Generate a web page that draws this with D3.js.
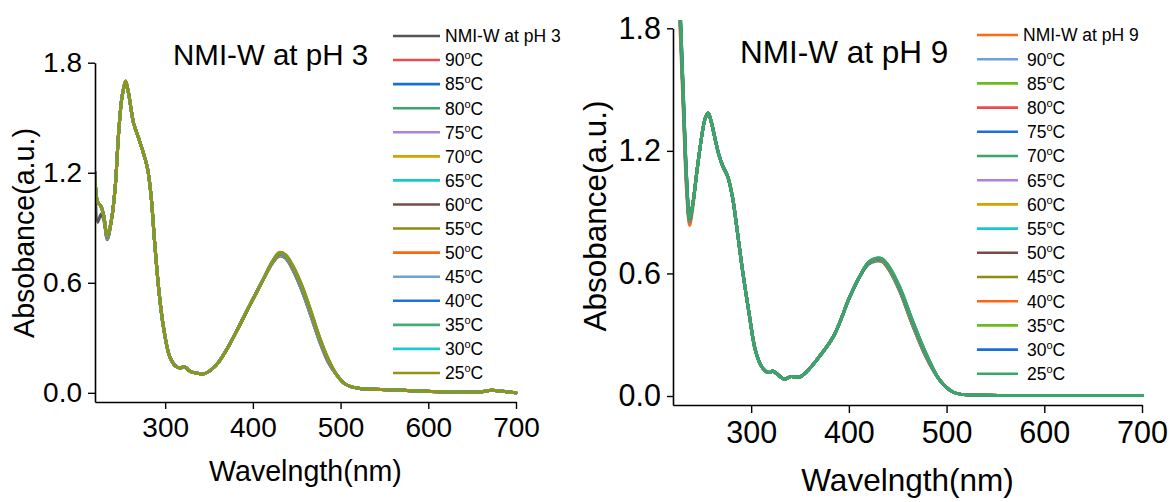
<!DOCTYPE html>
<html><head><meta charset="utf-8">
<script src="https://cdn.jsdelivr.net/npm/d3@7"></script>
<style>
html,body{margin:0;padding:0;background:#fff;}
svg{display:block;font-family:"Liberation Sans",Arial,Helvetica,sans-serif;}
</style></head>
<body><svg id="c" width="1172" height="502"></svg>
<script>
// ---------- DATA: left panel (pH 3) ----------
const wlLeft = [220,223,227,230,234,239,243,247,251,255,258,264,270,275,280,284,288,293,298,305,312,317,322,327,333,345,358,370,385,400,412,422,430,437,446,456,466,476,486,496,506,520,560,620,660,672,685,700];
const pH3_init = [1.17,0.93,0.975,0.94,0.85,0.95,1.12,1.42,1.62,1.69,1.64,1.47,1.385,1.31,1.22,1.07,0.82,0.55,0.36,0.20,0.145,0.135,0.143,0.122,0.11,0.105,0.15,0.235,0.37,0.51,0.62,0.710,0.755,0.745,0.677,0.569,0.434,0.292,0.174,0.095,0.045,0.025,0.016,0.006,0.005,0.014,0.008,0];
const pH3_90 = [1.20,1.04,1.015,0.965,0.835,0.95,1.12,1.42,1.62,1.685,1.64,1.47,1.385,1.31,1.22,1.07,0.82,0.55,0.36,0.20,0.145,0.135,0.143,0.122,0.11,0.105,0.15,0.235,0.37,0.51,0.62,0.705,0.745,0.735,0.665,0.555,0.420,0.280,0.165,0.095,0.045,0.025,0.016,0.006,0.005,0.014,0.008,0];
const pH3_85 = [1.20,1.04,1.015,0.965,0.837,0.95,1.12,1.42,1.62,1.687,1.64,1.47,1.385,1.31,1.22,1.07,0.82,0.55,0.36,0.20,0.145,0.135,0.143,0.122,0.11,0.105,0.15,0.235,0.37,0.51,0.62,0.706,0.747,0.737,0.667,0.557,0.422,0.282,0.167,0.095,0.045,0.025,0.016,0.006,0.005,0.014,0.008,0];
const pH3_80 = [1.20,1.04,1.015,0.965,0.839,0.95,1.12,1.42,1.62,1.688,1.64,1.47,1.385,1.31,1.22,1.07,0.82,0.55,0.36,0.20,0.145,0.135,0.143,0.122,0.11,0.105,0.15,0.235,0.37,0.51,0.62,0.707,0.748,0.738,0.669,0.560,0.425,0.284,0.168,0.095,0.045,0.025,0.016,0.006,0.005,0.014,0.008,0];
const pH3_75 = [1.20,1.04,1.015,0.965,0.841,0.95,1.12,1.42,1.62,1.690,1.64,1.47,1.385,1.31,1.22,1.07,0.82,0.55,0.36,0.20,0.145,0.135,0.143,0.122,0.11,0.105,0.15,0.235,0.37,0.51,0.62,0.707,0.750,0.740,0.671,0.562,0.427,0.286,0.170,0.095,0.045,0.025,0.016,0.006,0.005,0.014,0.008,0];
const pH3_70 = [1.20,1.04,1.015,0.965,0.843,0.95,1.12,1.42,1.62,1.691,1.64,1.47,1.385,1.31,1.22,1.07,0.82,0.55,0.36,0.20,0.145,0.135,0.143,0.122,0.11,0.105,0.15,0.235,0.37,0.51,0.62,0.708,0.751,0.741,0.673,0.564,0.429,0.288,0.171,0.095,0.045,0.025,0.016,0.006,0.005,0.014,0.008,0];
const pH3_65 = [1.20,1.04,1.015,0.965,0.845,0.95,1.12,1.42,1.62,1.693,1.64,1.47,1.385,1.31,1.22,1.07,0.82,0.55,0.36,0.20,0.145,0.135,0.143,0.122,0.11,0.105,0.15,0.235,0.37,0.51,0.62,0.709,0.753,0.743,0.675,0.567,0.432,0.290,0.173,0.095,0.045,0.025,0.016,0.006,0.005,0.014,0.008,0];
const pH3_60 = [1.20,1.04,1.015,0.965,0.847,0.95,1.12,1.42,1.62,1.694,1.64,1.47,1.385,1.31,1.22,1.07,0.82,0.55,0.36,0.20,0.145,0.135,0.143,0.122,0.11,0.105,0.15,0.235,0.37,0.51,0.62,0.710,0.754,0.744,0.677,0.569,0.434,0.292,0.174,0.095,0.045,0.025,0.016,0.006,0.005,0.014,0.008,0];
const pH3_55 = [1.20,1.04,1.015,0.965,0.848,0.95,1.12,1.42,1.62,1.696,1.64,1.47,1.385,1.31,1.22,1.07,0.82,0.55,0.36,0.20,0.145,0.135,0.143,0.122,0.11,0.105,0.15,0.235,0.37,0.51,0.62,0.710,0.756,0.746,0.678,0.571,0.436,0.293,0.176,0.095,0.045,0.025,0.016,0.006,0.005,0.014,0.008,0];
const pH3_50 = [1.20,1.04,1.015,0.965,0.850,0.95,1.12,1.42,1.62,1.697,1.64,1.47,1.385,1.31,1.22,1.07,0.82,0.55,0.36,0.20,0.145,0.135,0.143,0.122,0.11,0.105,0.15,0.235,0.37,0.51,0.62,0.711,0.757,0.747,0.680,0.573,0.438,0.295,0.177,0.095,0.045,0.025,0.016,0.006,0.005,0.014,0.008,0];
const pH3_45 = [1.20,1.04,1.015,0.965,0.852,0.95,1.12,1.42,1.62,1.699,1.64,1.47,1.385,1.31,1.22,1.07,0.82,0.55,0.36,0.20,0.145,0.135,0.143,0.122,0.11,0.105,0.15,0.235,0.37,0.51,0.62,0.712,0.759,0.749,0.682,0.576,0.441,0.297,0.179,0.095,0.045,0.025,0.016,0.006,0.005,0.014,0.008,0];
const pH3_40 = [1.20,1.04,1.015,0.965,0.854,0.95,1.12,1.42,1.62,1.700,1.64,1.47,1.385,1.31,1.22,1.07,0.82,0.55,0.36,0.20,0.145,0.135,0.143,0.122,0.11,0.105,0.15,0.235,0.37,0.51,0.62,0.713,0.760,0.750,0.684,0.578,0.443,0.299,0.180,0.095,0.045,0.025,0.016,0.006,0.005,0.014,0.008,0];
const pH3_35 = [1.20,1.04,1.015,0.965,0.856,0.95,1.12,1.42,1.62,1.700,1.64,1.47,1.385,1.31,1.22,1.07,0.82,0.55,0.36,0.20,0.145,0.135,0.143,0.122,0.11,0.105,0.15,0.235,0.37,0.51,0.62,0.713,0.762,0.752,0.686,0.580,0.445,0.301,0.182,0.095,0.045,0.025,0.016,0.006,0.005,0.014,0.008,0];
const pH3_30 = [1.20,1.04,1.015,0.965,0.858,0.95,1.12,1.42,1.62,1.700,1.64,1.47,1.385,1.31,1.22,1.07,0.82,0.55,0.36,0.20,0.145,0.135,0.143,0.122,0.11,0.105,0.15,0.235,0.37,0.51,0.62,0.714,0.763,0.753,0.688,0.583,0.448,0.303,0.183,0.095,0.045,0.025,0.016,0.006,0.005,0.014,0.008,0];
const pH3_25 = [1.20,1.04,1.015,0.965,0.860,0.95,1.12,1.42,1.62,1.700,1.64,1.47,1.385,1.31,1.22,1.07,0.82,0.55,0.36,0.20,0.145,0.135,0.143,0.122,0.11,0.105,0.15,0.235,0.37,0.51,0.62,0.715,0.765,0.755,0.690,0.585,0.450,0.305,0.185,0.095,0.045,0.025,0.016,0.006,0.005,0.014,0.008,0];

// ---------- DATA: right panel (pH 9) ----------
const wlRight = [220,224,228,231,234,237,240,245,250,253,256,259,263,267,271,276,281,286,291,298,304,310,315,319,322,326,334,341,349,357,367,384,401,411,420,428,434,441,452,465,479,493,506,515,540,600,700];
const pH9_init = [2.55,2.15,1.700,1.330,0.990,0.835,0.91,1.12,1.29,1.36,1.38,1.34,1.26,1.18,1.12,1.07,0.97,0.80,0.62,0.40,0.23,0.15,0.12,0.115,0.122,0.11,0.083,0.095,0.092,0.12,0.176,0.29,0.486,0.584,0.648,0.665,0.662,0.623,0.519,0.355,0.195,0.078,0.021,0.008,0.004,0.003,0.003];
const pH9_90 = [2.60,2.25,1.740,1.370,1.020,0.850,0.93,1.12,1.29,1.36,1.385,1.345,1.26,1.18,1.125,1.075,0.97,0.80,0.62,0.40,0.23,0.15,0.12,0.115,0.122,0.11,0.083,0.095,0.092,0.12,0.176,0.29,0.486,0.584,0.645,0.660,0.657,0.617,0.512,0.347,0.189,0.078,0.021,0.008,0.004,0.003,0.003];
const pH9_85 = [2.60,2.25,1.746,1.375,1.024,0.852,0.93,1.12,1.29,1.36,1.385,1.345,1.26,1.18,1.125,1.075,0.97,0.80,0.62,0.40,0.23,0.15,0.12,0.115,0.122,0.11,0.083,0.095,0.092,0.12,0.176,0.29,0.486,0.584,0.646,0.661,0.658,0.618,0.514,0.349,0.191,0.078,0.021,0.008,0.004,0.003,0.003];
const pH9_80 = [2.60,2.25,1.752,1.379,1.028,0.853,0.93,1.12,1.29,1.36,1.385,1.345,1.26,1.18,1.125,1.075,0.97,0.80,0.62,0.40,0.23,0.15,0.12,0.115,0.122,0.11,0.083,0.095,0.092,0.12,0.176,0.29,0.486,0.584,0.647,0.662,0.659,0.620,0.516,0.351,0.192,0.078,0.021,0.008,0.004,0.003,0.003];
const pH9_75 = [2.60,2.25,1.758,1.384,1.032,0.855,0.93,1.12,1.29,1.36,1.385,1.345,1.26,1.18,1.125,1.075,0.97,0.80,0.62,0.40,0.23,0.15,0.12,0.115,0.122,0.11,0.083,0.095,0.092,0.12,0.176,0.29,0.486,0.584,0.647,0.663,0.660,0.621,0.517,0.353,0.194,0.078,0.021,0.008,0.004,0.003,0.003];
const pH9_70 = [2.60,2.25,1.765,1.388,1.035,0.856,0.93,1.12,1.29,1.36,1.385,1.345,1.26,1.18,1.125,1.075,0.97,0.80,0.62,0.40,0.23,0.15,0.12,0.115,0.122,0.11,0.083,0.095,0.092,0.12,0.176,0.29,0.486,0.584,0.648,0.665,0.662,0.623,0.519,0.355,0.195,0.078,0.021,0.008,0.004,0.003,0.003];
const pH9_65 = [2.60,2.25,1.771,1.393,1.039,0.858,0.93,1.12,1.29,1.36,1.385,1.345,1.26,1.18,1.125,1.075,0.97,0.80,0.62,0.40,0.23,0.15,0.12,0.115,0.122,0.11,0.083,0.095,0.092,0.12,0.176,0.29,0.486,0.584,0.649,0.666,0.663,0.624,0.521,0.357,0.197,0.078,0.021,0.008,0.004,0.003,0.003];
const pH9_60 = [2.60,2.25,1.777,1.398,1.043,0.859,0.93,1.12,1.29,1.36,1.385,1.345,1.26,1.18,1.125,1.075,0.97,0.80,0.62,0.40,0.23,0.15,0.12,0.115,0.122,0.11,0.083,0.095,0.092,0.12,0.176,0.29,0.486,0.584,0.650,0.667,0.664,0.625,0.523,0.359,0.198,0.078,0.021,0.008,0.004,0.003,0.003];
const pH9_55 = [2.60,2.25,1.783,1.402,1.047,0.861,0.93,1.12,1.29,1.36,1.385,1.345,1.26,1.18,1.125,1.075,0.97,0.80,0.62,0.40,0.23,0.15,0.12,0.115,0.122,0.11,0.083,0.095,0.092,0.12,0.176,0.29,0.486,0.584,0.650,0.668,0.665,0.627,0.524,0.360,0.200,0.078,0.021,0.008,0.004,0.003,0.003];
const pH9_50 = [2.60,2.25,1.789,1.407,1.051,0.862,0.93,1.12,1.29,1.36,1.385,1.345,1.26,1.18,1.125,1.075,0.97,0.80,0.62,0.40,0.23,0.15,0.12,0.115,0.122,0.11,0.083,0.095,0.092,0.12,0.176,0.29,0.486,0.584,0.651,0.669,0.666,0.628,0.526,0.362,0.201,0.078,0.021,0.008,0.004,0.003,0.003];
const pH9_45 = [2.60,2.25,1.795,1.412,1.055,0.864,0.93,1.12,1.29,1.36,1.385,1.345,1.26,1.18,1.125,1.075,0.97,0.80,0.62,0.40,0.23,0.15,0.12,0.115,0.122,0.11,0.083,0.095,0.092,0.12,0.176,0.29,0.486,0.584,0.652,0.670,0.667,0.629,0.528,0.364,0.203,0.078,0.021,0.008,0.004,0.003,0.003];
const pH9_40 = [2.60,2.25,1.802,1.416,1.058,0.865,0.93,1.12,1.29,1.36,1.385,1.345,1.26,1.18,1.125,1.075,0.97,0.80,0.62,0.40,0.23,0.15,0.12,0.115,0.122,0.11,0.083,0.095,0.092,0.12,0.176,0.29,0.486,0.584,0.653,0.672,0.669,0.631,0.530,0.366,0.204,0.078,0.021,0.008,0.004,0.003,0.003];
const pH9_35 = [2.60,2.25,1.808,1.421,1.062,0.867,0.93,1.12,1.29,1.36,1.385,1.345,1.26,1.18,1.125,1.075,0.97,0.80,0.62,0.40,0.23,0.15,0.12,0.115,0.122,0.11,0.083,0.095,0.092,0.12,0.176,0.29,0.486,0.584,0.653,0.673,0.670,0.632,0.531,0.368,0.206,0.078,0.021,0.008,0.004,0.003,0.003];
const pH9_30 = [2.60,2.25,1.814,1.425,1.066,0.868,0.93,1.12,1.29,1.36,1.385,1.345,1.26,1.18,1.125,1.075,0.97,0.80,0.62,0.40,0.23,0.15,0.12,0.115,0.122,0.11,0.083,0.095,0.092,0.12,0.176,0.29,0.486,0.584,0.654,0.674,0.671,0.634,0.533,0.370,0.207,0.078,0.021,0.008,0.004,0.003,0.003];
const pH9_25 = [2.60,2.25,1.820,1.430,1.070,0.870,0.93,1.12,1.29,1.36,1.385,1.345,1.26,1.18,1.125,1.075,0.97,0.80,0.62,0.40,0.23,0.15,0.12,0.115,0.122,0.11,0.083,0.095,0.092,0.12,0.176,0.29,0.486,0.584,0.655,0.675,0.672,0.635,0.535,0.372,0.209,0.078,0.021,0.008,0.004,0.003,0.003];

// ---------- labels, ticks, colours ----------
const tempLabels = ["90","85","80","75","70","65","60","55","50","45","40","35","30","25"];
const leftTitle = "NMI-W at pH 3";
const rightTitle = "NMI-W at pH 9";
const xTitle = "Wavelngth(nm)";
const yTitle = "Absobance(a.u.)";
const xTicks = [300,400,500,600,700];
const yTicks = [0.0,0.6,1.2,1.8];
const leftSeries = [pH3_init,pH3_90,pH3_85,pH3_80,pH3_75,pH3_70,pH3_65,pH3_60,pH3_55,pH3_50,pH3_45,pH3_40,pH3_35,pH3_30,pH3_25];
const rightSeries = [pH9_init,pH9_90,pH9_85,pH9_80,pH9_75,pH9_70,pH9_65,pH9_60,pH9_55,pH9_50,pH9_45,pH9_40,pH9_35,pH9_30,pH9_25];
const leftColors = ["#555555","#ec4c4c","#1d6fd6","#3aa66b","#b07ee6","#d9a000","#17c8d0","#7a4a48","#8c8c10","#ff6410","#6fa0d8","#2070e0","#45ad78","#1fc8cc","#939316"];
const rightColors = ["#ff6a10","#6fa0d8","#6cbb1c","#ec4c4c","#1d6fd6","#3aa66b","#b07ee6","#d9a000","#17c8d0","#7a4a48","#8c8c10","#ff6410","#6cbb1c","#1d6fd6","#3aa66b"];

const svg = d3.select("#c");
svg.append("rect").attr("width",1172).attr("height",502).attr("fill","#fff");

function panel(cfg){
  const x = d3.scaleLinear().domain([220,700]).range(cfg.xr);
  const y = d3.scaleLinear().domain(cfg.yd).range(cfg.yr);
  const g = svg.append("g");
  const clipId = "clip"+cfg.id;
  svg.append("defs").append("clipPath").attr("id",clipId).append("rect")
    .attr("x",cfg.xr[0]).attr("y",y(cfg.clipTop)).attr("width",cfg.xr[1]-cfg.xr[0]+4).attr("height",cfg.yr[0]-y(cfg.clipTop));
  const line = d3.line().x(d=>x(d[0])).y(d=>y(d[1])).curve(d3.curveCatmullRom.alpha(0.5));
  const lines = g.append("g").attr("clip-path",`url(#${clipId})`);
  cfg.series.forEach((s,i)=>{
    lines.append("path").datum(cfg.wl.map((w,j)=>[w,s[j]]))
      .attr("d",line).attr("fill","none").attr("stroke",cfg.colors[i])
      .attr("stroke-width",3).attr("stroke-linejoin","round").attr("stroke-linecap","round");
  });
  // axes
  const xa = g.append("g").attr("transform",`translate(0,${cfg.yr[0]})`)
    .call(d3.axisBottom(x).tickValues(xTicks).tickFormat(d3.format("d")).tickSize(cfg.xtick).tickSizeOuter(0).tickPadding(cfg.xpad));
  const ya = g.append("g").attr("transform",`translate(${cfg.xr[0]},0)`)
    .call(d3.axisLeft(y).tickValues(yTicks).tickFormat(d3.format(".1f")).tickSize(cfg.ytick).tickSizeOuter(0).tickPadding(cfg.ypad));
  [xa,ya].forEach(a=>{
    a.select(".domain").attr("stroke","#000").attr("stroke-width",1.6);
    a.selectAll(".tick line").attr("stroke","#000").attr("stroke-width",1.4);
    a.selectAll(".tick text").attr("fill","#000").style("font-size",cfg.tickFont+"px").style("font-family",'"Liberation Sans",Arial,sans-serif');
  });
  // titles
  g.append("text").attr("x",cfg.titleX).attr("y",cfg.titleY).attr("font-size",cfg.titleFont).attr("fill","#000").text(cfg.title);
  g.append("text").attr("x",(cfg.xr[0]+cfg.xr[1])/2).attr("y",cfg.xTitleY).attr("text-anchor","middle")
    .attr("font-size",cfg.axisFont).attr("fill","#000").text(xTitle);
  g.append("text").attr("transform",`translate(${cfg.yTitleX},${cfg.yTitleY}) rotate(-90)`).attr("text-anchor","middle")
    .attr("font-size",cfg.axisFont).attr("fill","#000").text(yTitle);
  // legend
  const lg = g.append("g");
  const labels = [cfg.title].concat(tempLabels);
  labels.forEach((lab,i)=>{
    const cy = cfg.legY + i*cfg.legStep;
    lg.append("line").attr("x1",cfg.legX1).attr("x2",cfg.legX2).attr("y1",cy).attr("y2",cy)
      .attr("stroke",cfg.colors[i]).attr("stroke-width",2.6);
    const t = lg.append("text").attr("x", i===0?cfg.legTx0:cfg.legTx).attr("y",cy+6.3).attr("font-size",17.5).attr("fill","#000");
    if(i===0){ t.text(lab); }
    else {
      t.append("tspan").text(lab);
      t.append("tspan").attr("font-size","11px").attr("dy","-7").text("o");
      t.append("tspan").attr("dy","7").text("C");
    }
  });
}

panel({id:"L", wl:wlLeft, series:leftSeries, colors:leftColors, title:leftTitle,
  xr:[95,516], yd:[-0.05,1.8], yr:[402,62.7], clipTop:1.8,
  xtick:7, xpad:8, ytick:7, ypad:6, tickFont:28,
  titleX:173, titleY:65, titleFont:29.5,
  xTitleY:481, yTitleX:34, yTitleY:233, axisFont:28.6,
  legY:36, legStep:24.07, legX1:393, legX2:440, legTx0:445, legTx:445});

panel({id:"R", wl:wlRight, series:rightSeries, colors:rightColors, title:rightTitle,
  xr:[673,1142], yd:[-0.044,1.8], yr:[405,28.3], clipTop:1.84,
  xtick:8, xpad:8.5, ytick:6, ypad:6, tickFont:30.5,
  titleX:740, titleY:63, titleFont:31.5,
  xTitleY:491, yTitleX:606, yTitleY:216, axisFont:31.5,
  legY:35, legStep:24.2, legX1:977, legX2:1018, legTx0:1023, legTx:1027});
</script></body></html>
